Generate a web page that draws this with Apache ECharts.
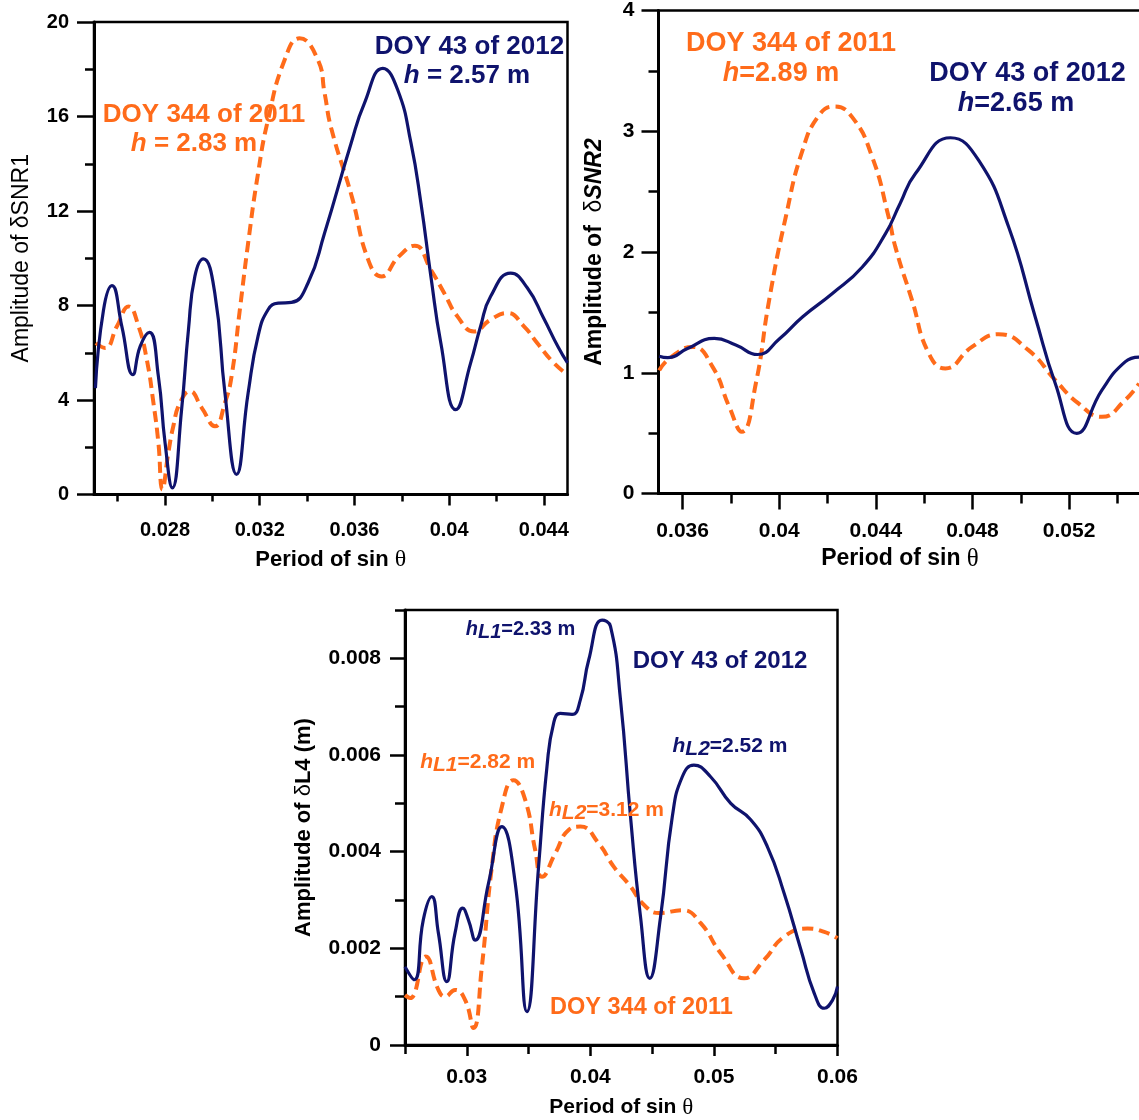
<!DOCTYPE html>
<html>
<head>
<meta charset="utf-8">
<script src="https://cdn.jsdelivr.net/npm/echarts@6/dist/echarts.min.js"></script>
<style>html,body{margin:0;padding:0;background:#fff}#c{width:1139px;height:1120px}</style>
</head>
<body>
<div id="c"></div>
<script>
// ---------- DATA: panel 1 (δSNR1) ----------
const snr1Doy43 = [[0.02506,4.5],[0.0254,7.8],[0.02576,8.84],[0.02618,7.1],[0.02664,5.07],[0.02695,6.27],[0.02734,6.86],[0.02772,5.0],[0.028,2.2],[0.02831,0.28],[0.0287,3.59],[0.02899,6.98],[0.02926,9.23],[0.02962,9.97],[0.0301,8.54],[0.03053,4.3],[0.03102,0.85],[0.03151,4.3],[0.03193,6.7],[0.03235,7.82],[0.03278,8.1],[0.03334,8.13],[0.03404,8.95],[0.03474,11.07],[0.03586,14.87],[0.03642,16.56],[0.0372,18.04],[0.03783,17.12],[0.03839,14.87],[0.03881,12.33],[0.03923,9.23],[0.03965,6.41],[0.04028,3.59],[0.04091,5.57],[0.04133,7.12],[0.04175,8.38],[0.0426,9.37],[0.0433,8.75],[0.044,7.45],[0.0446,6.25],[0.045,5.57]];
const snr1Doy344 = [[0.02508,6.41],[0.02547,6.2],[0.02597,7.12],[0.02646,7.96],[0.02688,7.12],[0.02723,5.71],[0.02751,3.88],[0.02772,2.19],[0.02789,0.21],[0.02814,1.77],[0.02835,2.89],[0.02863,3.88],[0.02905,4.37],[0.02955,3.67],[0.03011,2.89],[0.03053,3.88],[0.03081,5.0],[0.03116,7.82],[0.03151,10.64],[0.03193,13.6],[0.03235,15.86],[0.03305,18.39],[0.03368,19.31],[0.03446,18.39],[0.03474,16.99],[0.03502,15.5],[0.03589,12.61],[0.03658,9.94],[0.03714,9.23],[0.03788,10.08],[0.03855,10.53],[0.03923,9.51],[0.03979,8.53],[0.04035,7.54],[0.04105,6.9],[0.04175,7.4],[0.04246,7.68],[0.04316,7.12],[0.04372,6.41],[0.04442,5.57],[0.045,5.07]];
const snr1XMajor = [0.028,0.032,0.036,0.040,0.044];
const snr1XMinor = [0.026,0.030,0.034,0.038,0.042];
const snr1YMajor = [0,4,8,12,16,20];
const snr1YMinor = [2,6,10,14,18];

// ---------- DATA: panel 2 (δSNR2) ----------
const snr2Doy43 = [[0.03503,1.137],[0.03538,1.125],[0.0362,1.2],[0.03731,1.284],[0.0382,1.23],[0.0391,1.151],[0.04,1.28],[0.04096,1.462],[0.0422,1.656],[0.04344,1.876],[0.0444,2.152],[0.045,2.4],[0.04564,2.65],[0.04709,2.946],[0.04826,2.758],[0.0495,2.207],[0.0506,1.462],[0.05143,0.911],[0.05232,0.498],[0.05336,0.856],[0.05432,1.09],[0.0549,1.13]];
const snr2Doy344 = [[0.03503,1.02],[0.03545,1.118],[0.03641,1.214],[0.03724,1.049],[0.03793,0.718],[0.03845,0.511],[0.03903,0.911],[0.03958,1.6],[0.04027,2.29],[0.04096,2.84],[0.04164,3.13],[0.04227,3.205],[0.04302,3.117],[0.04385,2.786],[0.04453,2.29],[0.04481,2.04],[0.0455,1.6],[0.04619,1.16],[0.04688,1.036],[0.04798,1.214],[0.04908,1.319],[0.05032,1.187],[0.05143,0.939],[0.05239,0.746],[0.05336,0.635],[0.05432,0.773],[0.0549,0.911]];
const snr2XMajor = [0.036,0.040,0.044,0.048,0.052];
const snr2XMinor = [0.038,0.042,0.046,0.050,0.054];
const snr2YMajor = [0,1,2,3,4];
const snr2YMinor = [0.5,1.5,2.5,3.5];

// ---------- DATA: panel 3 (δL4) ----------
const l4Doy43 = [[0.025,0.00162],[0.02575,0.00135],[0.02648,0.00259],[0.02717,0.00307],[0.0277,0.00232],[0.02838,0.00131],[0.02905,0.00232],[0.02968,0.00283],[0.03013,0.00259],[0.03068,0.00217],[0.03176,0.00335],[0.03284,0.00452],[0.03392,0.00335],[0.03487,0.00069],[0.03581,0.00369],[0.03649,0.00576],[0.03703,0.00666],[0.03757,0.00686],[0.03852,0.00684],[0.03919,0.00714],[0.03987,0.00797],[0.04095,0.00879],[0.04163,0.00866],[0.04244,0.00714],[0.04325,0.00472],[0.04406,0.00265],[0.04481,0.00138],[0.04568,0.00265],[0.04663,0.00472],[0.04744,0.00555],[0.04838,0.00579],[0.04973,0.00555],[0.05136,0.005],[0.05298,0.00466],[0.05433,0.0041],[0.05568,0.00314],[0.05704,0.00197],[0.05812,0.00107],[0.05893,0.00076],[0.0596,0.00093],[0.06,0.00121]];
const l4Doy344 = [[0.025,0.00103],[0.02541,0.00097],[0.02668,0.00183],[0.0277,0.00114],[0.02824,0.001],[0.02905,0.00114],[0.02987,0.00093],[0.03054,0.00035],[0.03122,0.00162],[0.03203,0.00369],[0.03284,0.00493],[0.03378,0.00548],[0.03473,0.00507],[0.03554,0.00403],[0.03609,0.00348],[0.03717,0.00397],[0.03824,0.00445],[0.03919,0.00452],[0.04068,0.00417],[0.04189,0.00369],[0.04325,0.00328],[0.04433,0.0029],[0.04555,0.00273],[0.04744,0.00279],[0.04893,0.00252],[0.05055,0.0019],[0.05244,0.00138],[0.05406,0.00176],[0.05568,0.00224],[0.05758,0.00241],[0.05893,0.00234],[0.06,0.00221]];
const l4XMajor = [0.03,0.04,0.05,0.06];
const l4XMinor = [0.025,0.035,0.045,0.055];
const l4YMajor = [0,0.002,0.004,0.006,0.008];
const l4YMinor = [0.001,0.003,0.005,0.007,0.009];

// ---------- STYLE ----------
const FONT = '"Liberation Sans", Arial, sans-serif';
const NAVY = '#0f136d';
const ORANGE = '#ff6b1a';
function fmt(v){ return String(parseFloat(Number(v).toFixed(4))); }

function axisPair(dim, gi, min, max, majors, minors, majLen, minLen, labelSize, margin, name, nameGap, nameStyle){
  const pos = dim === 'x' ? 'bottom' : 'left';
  const main = {
    type:'value', gridIndex:gi, min:min, max:max, position:pos,
    axisLine:{show:true, onZero:false, lineStyle:{color:'#000', width:3}},
    axisTick:{show:true, inside:false, length:majLen, customValues:majors, lineStyle:{color:'#000', width:2.5}},
    axisLabel:{show:true, customValues:majors, margin:margin, formatter:fmt, color:'#000',
      fontFamily:FONT, fontWeight:'bold', fontSize:labelSize, hideOverlap:false},
    splitLine:{show:false}, minorTick:{show:false},
    name:name, nameLocation:'middle', nameGap:nameGap, nameTextStyle:nameStyle, nameMoveOverlap:false
  };
  const minor = {
    type:'value', gridIndex:gi, min:min, max:max, position:pos,
    axisLine:{show:false, onZero:false},
    axisTick:{show:true, inside:false, length:minLen, customValues:minors, lineStyle:{color:'#000', width:2.5}},
    axisLabel:{show:false}, splitLine:{show:false}
  };
  return [main, minor];
}

function xName(size){ return {fontFamily:FONT, fontWeight:'bold', fontSize:size, color:'#000',
  rich:{t:{fontFamily:'"Liberation Serif", serif', fontWeight:'normal', fontSize:size+2, color:'#000'}}}; }

const xAxes = [].concat(
  axisPair('x',0,0.025,0.045,snr1XMajor,snr1XMinor,11,7,20,26,'Period of sin {t|θ}',53,xName(22)),
  axisPair('x',1,0.035,0.055,snr2XMajor,snr2XMinor,16,10,21,27,'Period of sin {t|θ}',53,xName(23)),
  axisPair('x',2,0.025,0.06,l4XMajor,l4XMinor,11,9,21,22,'Period of sin {t|θ}',51,xName(21))
);
const yAxes = [].concat(
  axisPair('y',0,0,20,snr1YMajor,snr1YMinor,17,9,20,25,'Amplitude of δSNR1',61,
    {fontFamily:FONT, fontWeight:'normal', fontSize:23, color:'#000'}),
  axisPair('y',1,0,4,snr2YMajor,snr2YMinor,17,10,21,24,'Amplitude of  {d|δ}{i|SNR2}',52,
    {fontFamily:FONT, fontWeight:'bold', fontSize:23, color:'#000',
     rich:{d:{fontFamily:FONT, fontWeight:'normal', fontSize:23, color:'#000'},
           i:{fontFamily:FONT, fontWeight:'bold', fontStyle:'italic', fontSize:23, color:'#000'}}}),
  axisPair('y',2,0,0.009,l4YMajor,l4YMinor,15,10,21,24,'Amplitude of {d|δ}L4 (m)',90,
    {fontFamily:FONT, fontWeight:'bold', fontSize:22, color:'#000',
     rich:{d:{fontFamily:FONT, fontWeight:'normal', fontSize:22, color:'#000'}}})
);

function line(data, color, dashed, xi, yi){
  return {type:'line', xAxisIndex:xi, yAxisIndex:yi, data:data, showSymbol:false, symbol:'none',
    smooth:0.5, silent:true, z: dashed ? 2 : 3,
    lineStyle:{color:color, width: dashed ? 4 : 3.2, type: dashed ? [11,6] : 'solid'}};
}

function txt(x, y, text, size, color, rich){
  const r = {};
  if (rich) {
    r.i = {fontStyle:'italic', fontWeight:'bold', fontSize:size, fontFamily:FONT, fill:color, color:color};
    r.s = {fontStyle:'italic', fontWeight:'bold', fontSize:size, fontFamily:FONT, fill:color, color:color, padding:[7,0,0,0]};
  }
  return {type:'text', x:x, y:y, silent:true, z:10,
    style:{text:text, fill:color, font:'bold '+size+'px '+FONT, fontSize:size, fontWeight:'bold', fontFamily:FONT,
      align:'center', verticalAlign:'middle', textAlign:'center', textVerticalAlign:'middle', rich:r}};
}

const gridBase = {show:true, borderColor:'#000', borderWidth:2.5, backgroundColor:'transparent', containLabel:false, outerBoundsMode:'none'};

const option = {
  animation:false,
  backgroundColor:'#fff',
  grid:[
    Object.assign({left:94, top:22, width:473.5, height:472.5}, gridBase),
    Object.assign({left:658.5, top:10.5, width:483, height:483}, gridBase),
    Object.assign({left:405, top:610, width:432.5, height:435}, gridBase)
  ],
  xAxis: xAxes,
  yAxis: yAxes,
  series:[
    line(snr1Doy344, ORANGE, true, 0, 0),
    line(snr1Doy43, NAVY, false, 0, 0),
    line(snr2Doy344, ORANGE, true, 2, 2),
    line(snr2Doy43, NAVY, false, 2, 2),
    line(l4Doy344, ORANGE, true, 4, 4),
    line(l4Doy43, NAVY, false, 4, 4)
  ],
  graphic:[
    txt(469.5, 46.5, 'DOY 43 of 2012', 26, NAVY),
    txt(467, 76, '{i|h} = 2.57 m', 26, NAVY, true),
    txt(204, 115, 'DOY 344 of 2011', 26, ORANGE),
    txt(194, 144, '{i|h} = 2.83 m', 26, ORANGE, true),
    txt(791, 44, 'DOY 344 of 2011', 27, ORANGE),
    txt(781, 74, '{i|h}=2.89 m', 27, ORANGE, true),
    txt(1027.5, 73.5, 'DOY 43 of 2012', 27, NAVY),
    txt(1016, 104, '{i|h}=2.65 m', 27, NAVY, true),
    txt(520.5, 629, '{i|h}{s|L1}=2.33 m', 20, NAVY, true),
    txt(720, 661, 'DOY 43 of 2012', 24, NAVY),
    txt(730, 746, '{i|h}{s|L2}=2.52 m', 21, NAVY, true),
    txt(477.7, 762, '{i|h}{s|L1}=2.82 m', 21, ORANGE, true),
    txt(606.5, 810, '{i|h}{s|L2}=3.12 m', 21, ORANGE, true),
    txt(641.5, 1008, 'DOY 344 of 2011', 23.5, ORANGE)
  ]
};

const chart = echarts.init(document.getElementById('c'), null, {renderer:'canvas'});
chart.setOption(option);
</script>
</body>
</html>
